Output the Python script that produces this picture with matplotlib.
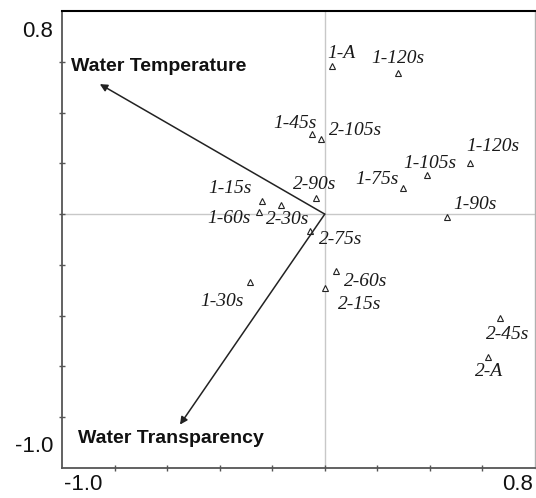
import matplotlib.pyplot as plt

# sample scores
names = ["1-A", "1-120s", "1-45s", "2-105s", "1-120s", "1-105s", "1-75s", "2-90s",
         "1-90s", "2-30s", "1-15s", "1-60s", "2-75s", "1-30s", "2-60s", "2-15s",
         "2-45s", "2-A"]
xs = [0.029, 0.280, -0.047, -0.015, 0.551, 0.389, 0.297, -0.034,
      0.466, -0.165, -0.240, -0.252, -0.058, -0.285, 0.042, 0.001,
      0.665, 0.622]
ys = [0.583, 0.556, 0.314, 0.294, 0.202, 0.154, 0.101, 0.063,
      -0.011, 0.035, 0.050, 0.008, -0.067, -0.269, -0.223, -0.291,
      -0.409, -0.561]
# label offsets from each marker, in pixels
label_dx = [9, 0, -17, 35, 23, 3, -26, -1, 28, 6, -32, -30, 31, -28, 30, 35, 8, 1]
label_dy = [13, 14, 11, 9, 16, 12, 9, 14, 12, -14, 13, -6, -8, -19, -11, -17, -17, -15]

# environmental vectors
env_names = ["Water Temperature", "Water Transparency"]
env_x = [-0.856, -0.551]
env_y = [0.512, -0.829]
env_label_x = [-0.964, -0.939]
env_label_y = [0.58, -0.885]

xmin, xmax = -1.0, 0.8
ymin, ymax = -1.0, 0.8
ticks = [-0.8, -0.6, -0.4, -0.2, 0.0, 0.2, 0.4, 0.6]

fig = plt.figure(figsize=(5.36, 4.98), dpi=100)
ax = fig.add_axes([62 / 536, 30 / 498, 473 / 536, 457 / 498])
ax.set_xlim(xmin, xmax)
ax.set_ylim(ymin, ymax)

ax.axvline(0, color="#c8c8c8", lw=1, zorder=0)
ax.axhline(0, color="#c8c8c8", lw=1, zorder=0)

ax.plot(xs, ys, linestyle="none", marker="^", markersize=4.5, mfc="white",
        mec="#222222", mew=0.8, zorder=3)
for name, x, y, dx, dy in zip(names, xs, ys, label_dx, label_dy):
    ax.annotate(name, (x, y), xytext=(dx, dy), textcoords="offset pixels",
                ha="center", va="center", fontsize=14, style="italic",
                family="Liberation Serif", color="#1a1a1a")

for name, x, y, lx, ly in zip(env_names, env_x, env_y, env_label_x, env_label_y):
    ax.annotate("", xy=(x, y), xytext=(0, 0),
                arrowprops=dict(arrowstyle="-|>", color="#222222", lw=1.1,
                                mutation_scale=11, shrinkA=0, shrinkB=0))
    ax.text(lx, ly, name, ha="left", va="center", fontsize=14,
            fontweight="bold", family="Liberation Sans", color="#111111")

ax.set_xticks(ticks)
ax.set_yticks(ticks)
ax.set_xticklabels([])
ax.set_yticklabels([])
ax.tick_params(direction="inout", length=5, width=1, color="#555555")

for side in ["left", "bottom"]:
    ax.spines[side].set_color("#555555")
    ax.spines[side].set_linewidth(1.3)
ax.spines["top"].set_color("black")
ax.spines["top"].set_linewidth(1.5)
ax.spines["right"].set_color("#b0b0b0")
ax.spines["right"].set_linewidth(1)

# end labels of the axes
end_kw = dict(fontsize=16, family="Liberation Sans", color="#111111", va="center")
ax.text(-0.019, 0.718, "0.8", transform=ax.get_yaxis_transform(), ha="right", **end_kw)
ax.text(-0.019, -0.916, "-1.0", transform=ax.get_yaxis_transform(), ha="right", **end_kw)
ax.text(-0.921, -0.037, "-1.0", transform=ax.get_xaxis_transform(), ha="center", **end_kw)
ax.text(0.733, -0.037, "0.8", transform=ax.get_xaxis_transform(), ha="center", **end_kw)

fig.savefig("out.png", dpi=100)
